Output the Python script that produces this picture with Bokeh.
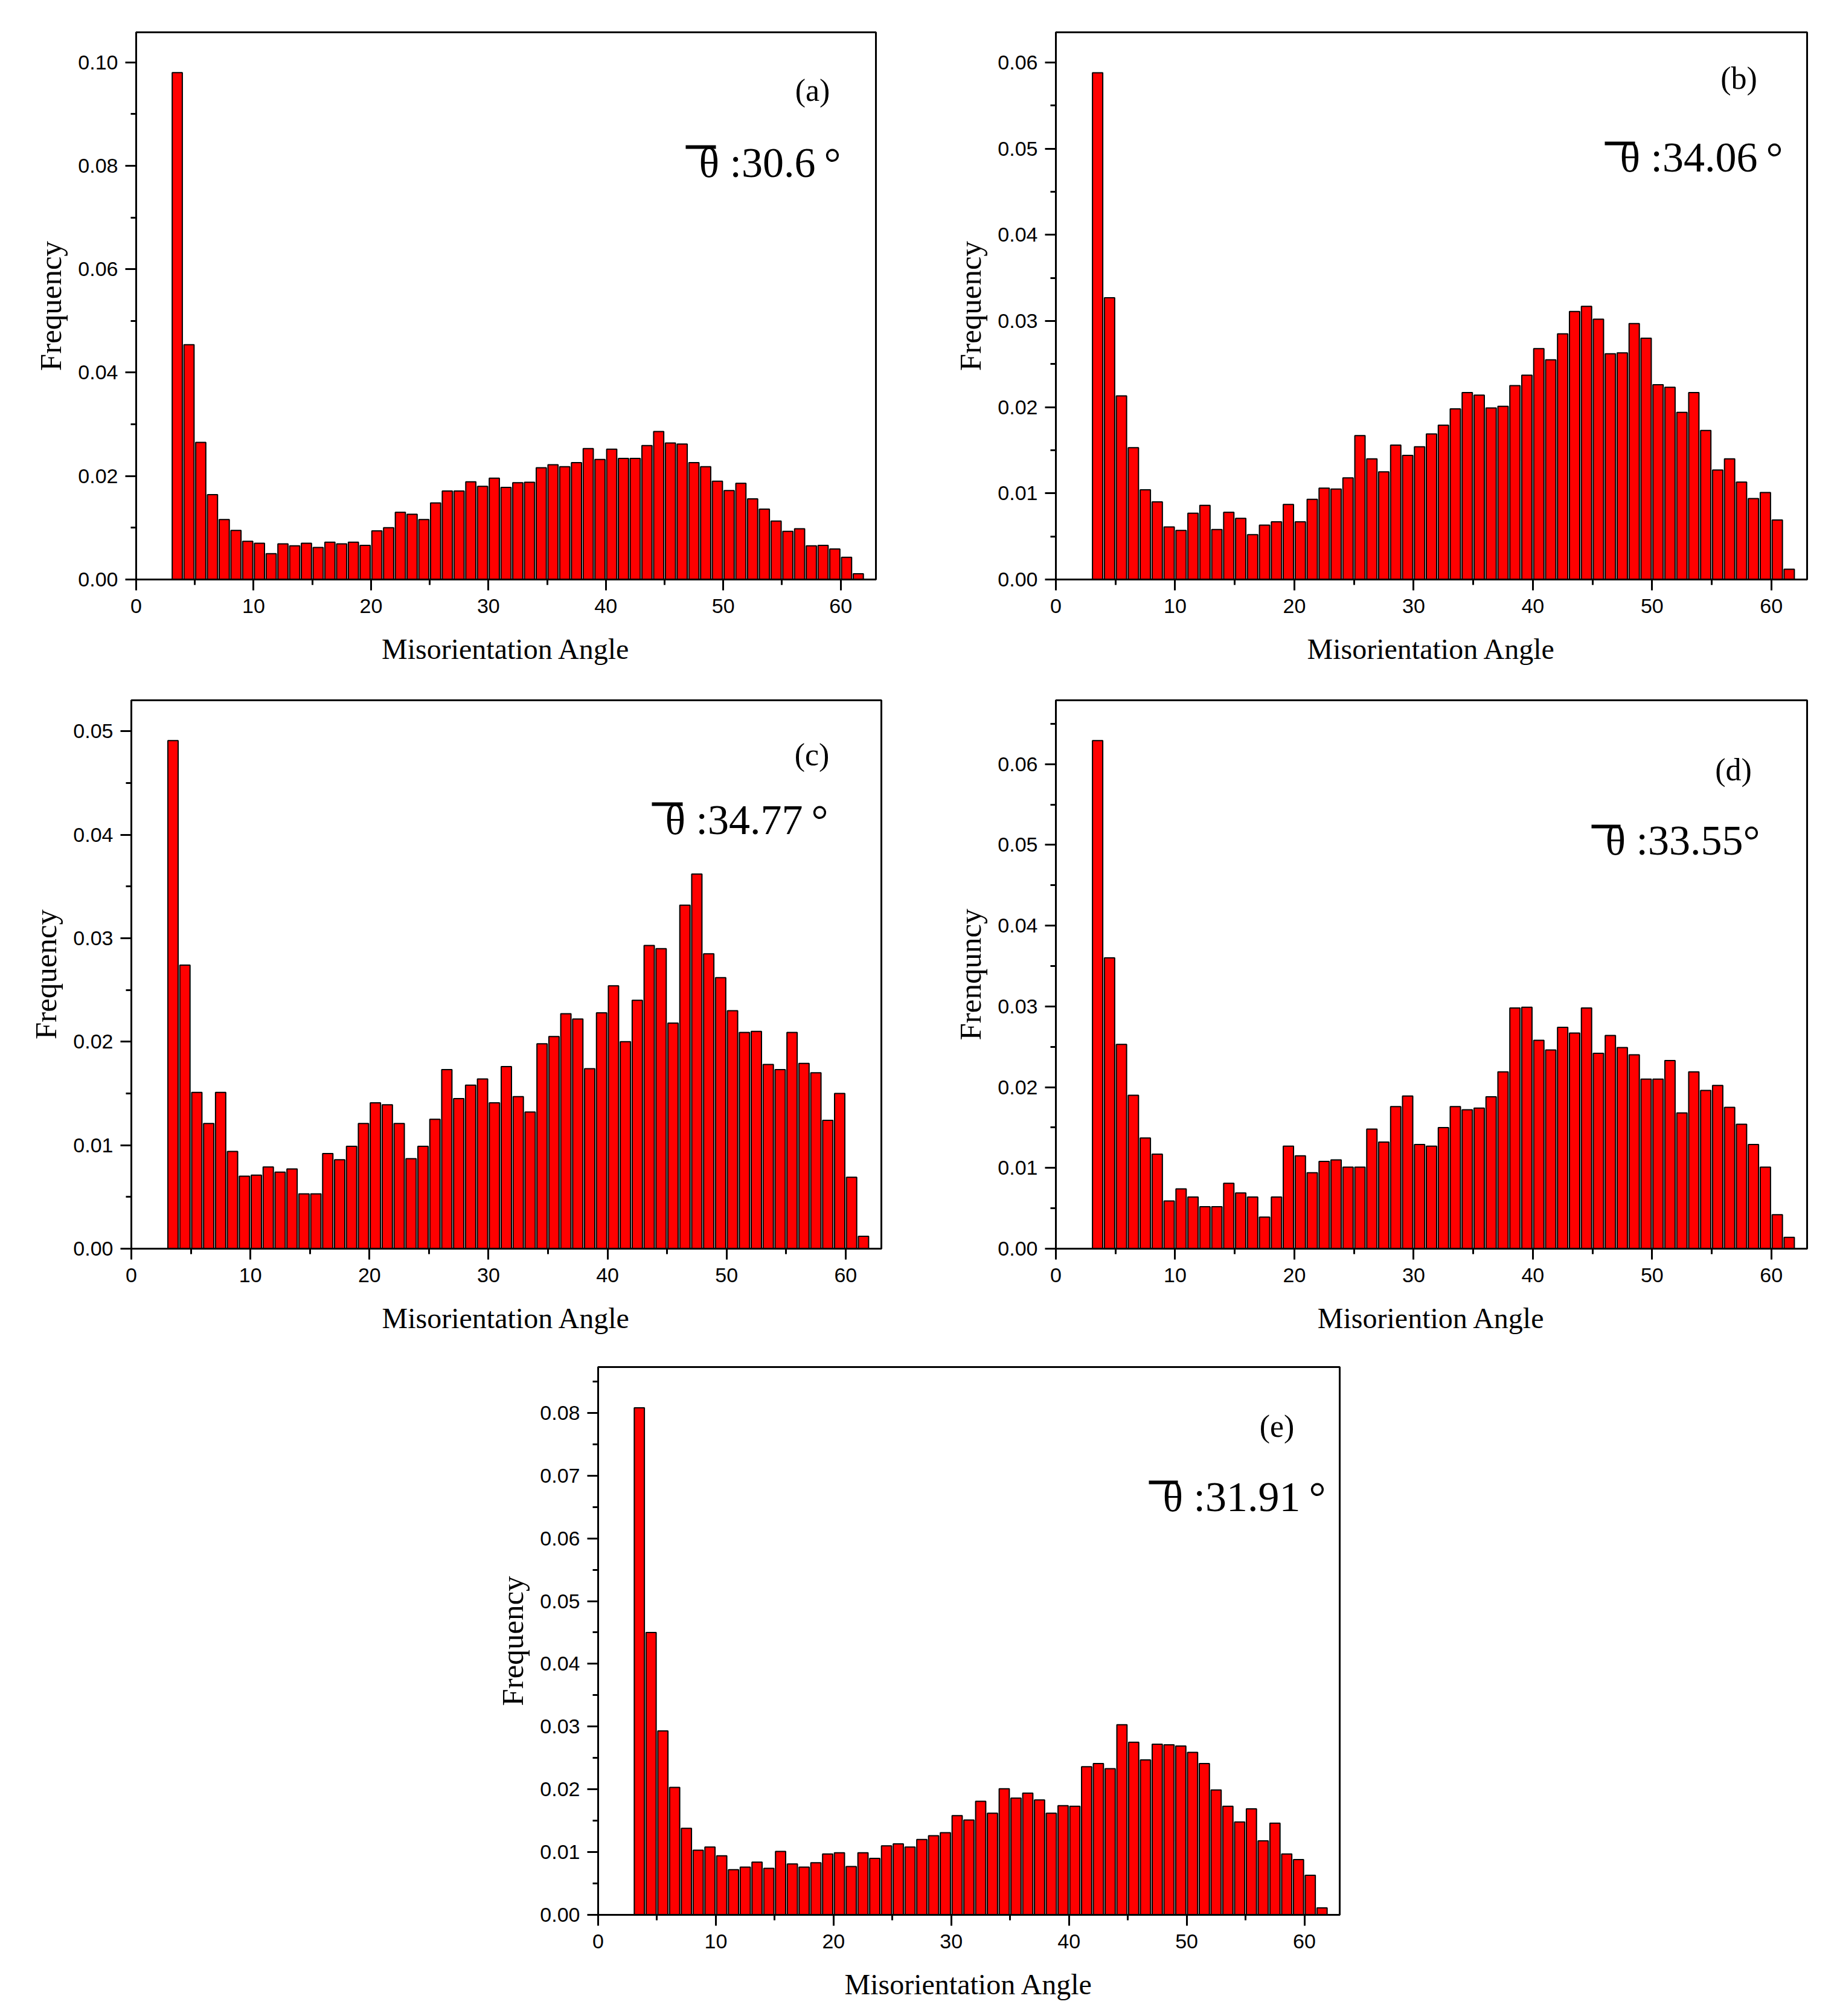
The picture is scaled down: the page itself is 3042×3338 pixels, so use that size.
from bokeh.plotting import figure
from bokeh.layouts import column, row
from bokeh.models import Spacer, Label, SingleIntervalTicker, NumeralTickFormatter, Range1d, BoxAnnotation
from bokeh.embed import file_html
from bokeh.resources import INLINE

# ---------------- data ----------------
bin_starts = list(range(3, 62))          # 1-degree bins, 3..62
angles = [b + 0.5 for b in bin_starts]    # bin centres

freq_a = [0.0980, 0.0454, 0.0265, 0.0164, 0.0116, 0.0095, 0.0074, 0.0070, 0.0050, 0.0069,
          0.0065, 0.0070, 0.0062, 0.0072, 0.0069, 0.0072, 0.0066, 0.0094, 0.0100, 0.0130,
          0.0126, 0.0116, 0.0148, 0.0171, 0.0171, 0.0189, 0.0180, 0.0196, 0.0178, 0.0187,
          0.0188, 0.0216, 0.0222, 0.0218, 0.0226, 0.0253, 0.0232, 0.0252, 0.0234, 0.0234,
          0.0259, 0.0286, 0.0264, 0.0262, 0.0226, 0.0218, 0.0190, 0.0172, 0.0186, 0.0156,
          0.0136, 0.0113, 0.0093, 0.0098, 0.0065, 0.0066, 0.0059, 0.0043, 0.0011]

freq_b = [0.0588, 0.0327, 0.0213, 0.0153, 0.0104, 0.0090, 0.0061, 0.0057, 0.0077, 0.0086,
          0.0058, 0.0078, 0.0071, 0.0052, 0.0063, 0.0067, 0.0087, 0.0067, 0.0093, 0.0106,
          0.0105, 0.0118, 0.0167, 0.0140, 0.0125, 0.0156, 0.0144, 0.0154, 0.0169, 0.0179,
          0.0198, 0.0217, 0.0214, 0.0199, 0.0201, 0.0225, 0.0237, 0.0268, 0.0255, 0.0285,
          0.0311, 0.0317, 0.0302, 0.0262, 0.0263, 0.0297, 0.0280, 0.0226, 0.0223, 0.0194,
          0.0217, 0.0173, 0.0127, 0.0140, 0.0113, 0.0094, 0.0101, 0.0069, 0.0012]

freq_c = [0.0491, 0.0274, 0.0151, 0.0121, 0.0151, 0.0094, 0.0070, 0.0071, 0.0079, 0.0074,
          0.0077, 0.0053, 0.0053, 0.0092, 0.0086, 0.0099, 0.0121, 0.0141, 0.0139, 0.0121,
          0.0087, 0.0099, 0.0125, 0.0173, 0.0145, 0.0158, 0.0164, 0.0141, 0.0176, 0.0147,
          0.0132, 0.0198, 0.0205, 0.0227, 0.0222, 0.0174, 0.0228, 0.0254, 0.0200, 0.0240,
          0.0293, 0.0290, 0.0218, 0.0332, 0.0362, 0.0285, 0.0262, 0.0230, 0.0209, 0.0210,
          0.0178, 0.0173, 0.0209, 0.0179, 0.0170, 0.0124, 0.0150, 0.0069, 0.0012]

freq_d = [0.0629, 0.0360, 0.0253, 0.0190, 0.0137, 0.0117, 0.0059, 0.0074, 0.0064, 0.0052,
          0.0052, 0.0081, 0.0069, 0.0064, 0.0039, 0.0064, 0.0127, 0.0115, 0.0094, 0.0108,
          0.0110, 0.0101, 0.0101, 0.0148, 0.0132, 0.0176, 0.0189, 0.0129, 0.0127, 0.0150,
          0.0176, 0.0172, 0.0174, 0.0188, 0.0219, 0.0298, 0.0299, 0.0258, 0.0246, 0.0274,
          0.0267, 0.0298, 0.0242, 0.0264, 0.0249, 0.0240, 0.0210, 0.0210, 0.0233, 0.0168,
          0.0219, 0.0196, 0.0202, 0.0175, 0.0154, 0.0129, 0.0101, 0.0042, 0.0014]

freq_e = [0.0808, 0.0450, 0.0293, 0.0203, 0.0138, 0.0103, 0.0108, 0.0094, 0.0072, 0.0076,
          0.0084, 0.0074, 0.0101, 0.0081, 0.0076, 0.0083, 0.0097, 0.0099, 0.0077, 0.0099,
          0.0090, 0.0110, 0.0113, 0.0108, 0.0120, 0.0126, 0.0131, 0.0158, 0.0151, 0.0181,
          0.0162, 0.0201, 0.0186, 0.0194, 0.0183, 0.0162, 0.0174, 0.0173, 0.0236, 0.0241,
          0.0233, 0.0303, 0.0275, 0.0247, 0.0272, 0.0271, 0.0269, 0.0259, 0.0241, 0.0199,
          0.0173, 0.0148, 0.0169, 0.0118, 0.0146, 0.0097, 0.0088, 0.0063, 0.0011]

panel_tags = ["(a)", "(b)", "(c)", "(d)", "(e)"]
mean_angles = ["30.6", "34.06", "34.77", "33.55", "31.91"]
degree_marks = ["\u2009\u00b0", "\u2009\u00b0", "\u2009\u00b0", "\u00b0", "\u2009\u00b0"]
y_labels = ["Frequency", "Frequency", "Frequency", "Frenquncy", "Frequency"]
x_labels = ["Misorientation Angle", "Misorientation Angle", "Misorientation Angle",
            "Misoriention Angle", "Misorientation Angle"]
y_max = [0.1058, 0.0635, 0.0530, 0.0679, 0.0873]
y_major = [0.02, 0.01, 0.01, 0.01, 0.01]
x_max = 63

TICK_FONT = "Liberation Sans"
SERIF = "Liberation Serif"

TAG_SHIFT = 8      # empirical correction of Bokeh's text placement (px, upward)
THETA_SHIFT = 28


def make_panel(vals, ymax, yint, ylabel, xlabel, tag, mean, deg,
               fw, fh, bl, br, bt, bb, tag_off, th_off, bar_off):
    p = figure(frame_width=fw, frame_height=fh,
               x_range=Range1d(0, x_max), y_range=Range1d(0, ymax),
               output_backend="svg", toolbar_location=None,
               min_border_left=bl, min_border_right=br,
               min_border_top=bt, min_border_bottom=bb)
    p.vbar(x=angles, top=vals, bottom=0, width=0.86,
           fill_color="#ff0000", line_color="black", line_width=2)

    p.xgrid.visible = False
    p.ygrid.visible = False
    p.outline_line_color = "black"
    p.outline_line_width = 3
    p.outline_line_alpha = 1.0
    p.background_fill_color = "white"
    p.border_fill_color = "white"

    p.xaxis.ticker = SingleIntervalTicker(interval=10, num_minor_ticks=2)
    p.yaxis.ticker = SingleIntervalTicker(interval=yint, num_minor_ticks=2)
    p.yaxis.formatter = NumeralTickFormatter(format="0.00")

    for ax in (p.xaxis[0], p.yaxis[0]):
        ax.axis_line_width = 3
        ax.axis_line_color = "black"
        ax.major_tick_line_width = 3
        ax.minor_tick_line_width = 3
        ax.major_tick_out = 18
        ax.major_tick_in = 0
        ax.minor_tick_out = 9
        ax.minor_tick_in = 0
        ax.major_label_text_font = TICK_FONT
        ax.major_label_text_font_size = "34px"
        ax.major_label_text_color = "black"
        ax.axis_label_text_font = SERIF
        ax.axis_label_text_font_style = "normal"
        ax.axis_label_text_color = "black"
    p.xaxis.axis_label_text_font_size = "48px"
    p.yaxis.axis_label_text_font_size = "51px"
    p.xaxis.major_label_standoff = 14
    p.yaxis.major_label_standoff = 12
    p.xaxis.axis_label_standoff = 30
    p.yaxis.axis_label_standoff = 14
    p.xaxis.axis_label = xlabel
    p.yaxis.axis_label = ylabel

    # pixel offsets -> data coordinates
    def xr(dx):      # dx px left of frame right edge
        return x_max * (1 - dx / fw)

    def yt(dy):      # dy px below frame top edge
        return ymax * (1 - dy / fh)

    # panel tag
    p.add_layout(Label(x=xr(tag_off[0] + 2), y=yt(tag_off[1] - TAG_SHIFT), text=tag,
                       text_font=SERIF, text_font_size="52px", text_align="center",
                       text_baseline="middle", text_color="black"))
    # mean misorientation angle with overlined theta
    p.add_layout(Label(x=xr(th_off[0]), y=yt(th_off[1] - THETA_SHIFT),
                       text="\u03b8 :" + mean + deg,
                       text_font=SERIF, text_font_size="70px", text_align="left",
                       text_baseline="alphabetic", text_color="black"))
    p.add_layout(BoxAnnotation(left=xr(bar_off[0]), right=xr(bar_off[1]),
                               bottom=yt(bar_off[2] + 3), top=yt(bar_off[2] - 3),
                               fill_color="black", fill_alpha=1.0, line_alpha=0))
    return p


pa = make_panel(freq_a, y_max[0], y_major[0], y_labels[0], x_labels[0], panel_tags[0],
                mean_angles[0], degree_marks[0],
                1225, 906, 225, 50, 53, 160, (103, 104), (293, 244), (315, 265, 190))
pb = make_panel(freq_b, y_max[1], y_major[1], y_labels[1], x_labels[1], panel_tags[1],
                mean_angles[1], degree_marks[1],
                1244, 906, 248, 30, 53, 160, (111, 84), (310, 235), (335, 285, 184))
pc = make_panel(freq_c, y_max[2], y_major[2], y_labels[2], x_labels[2], panel_tags[2],
                mean_angles[2], degree_marks[2],
                1242, 908, 217, 41, 40, 155, (113, 98), (358, 226), (380, 329, 172))
pd = make_panel(freq_d, y_max[3], y_major[3], y_labels[3], x_labels[3], panel_tags[3],
                mean_angles[3], degree_marks[3],
                1244, 908, 248, 30, 40, 155, (120, 123), (334, 260), (357, 309, 209))
pe = make_panel(freq_e, y_max[4], y_major[4], y_labels[4], x_labels[4], panel_tags[4],
                mean_angles[4], degree_marks[4],
                1228, 907, 225, 50, 41, 158, (102, 106), (293, 243), (316, 268, 191))

layout = column(row(pa, pb), row(pc, pd), row(Spacer(width=765, height=10), pe))

open("out.html", "w").write(file_html(layout, INLINE))
